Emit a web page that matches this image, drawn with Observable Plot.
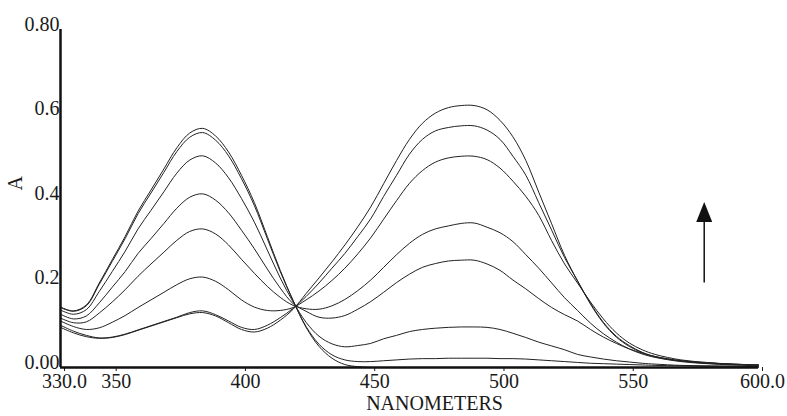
<!DOCTYPE html>
<html><head><meta charset="utf-8">
<script src="https://cdn.jsdelivr.net/npm/d3@7"></script>
<script src="https://cdn.jsdelivr.net/npm/@observablehq/plot@0.6"></script>
<style>
body{margin:0;background:#fff;}
</style></head><body><div id="chart"></div>
<script>
const wavelengths = [330,335,340,345,350,355,360,365,370,375,380,385,390,395,400,405,410,415,420,425,430,435,440,445,450,455,460,465,470,475,480,485,490,495,500,505,510,515,520,525,530,535,540,545,550,555,560,570,580,590,600];

const curve1 = [.143,.134,.148,.200,.255,.310,.370,.420,.470,.520,.555,.566,.548,.510,.455,.390,.310,.230,.158,.095,.050,.022,.007,.002,.000,
  0,0,0,0,0,0,0,0,0,0,0,0,0,0,0,0,0,0,0,0,0,0,0,0,0,0];
const curve2 = [.142,.133,.146,.197,.251,.305,.364,.413,.462,.511,.545,.556,.538,.501,.447,.383,.305,.227,.158,.097,.055,.030,.018,.014,.014,
  .016,.018,.020,.021,.021,.022,.022,.022,.022,.021,.021,.020,.018,.016,.014,.012,.010,.009,.008,.007,.006,.005,.004,.003,.003,.002];
const curve3 = [.136,.126,.137,.180,.227,.275,.328,.372,.416,.460,.491,.501,.484,.449,.400,.344,.278,.212,.155,.107,.074,.056,.049,.052,.057,
  .068,.076,.085,.090,.093,.095,.096,.096,.095,.090,.081,.071,.060,.051,.042,.031,.025,.020,.016,.013,.010,.008,.005,.004,.003,.002];
const curve4 = [.126,.115,.122,.153,.190,.227,.270,.305,.341,.377,.403,.411,.396,.366,.325,.281,.233,.188,.151,.133,.119,.117,.123,.138,.156,
  .178,.201,.221,.237,.246,.252,.254,.254,.245,.230,.207,.186,.163,.142,.125,.110,.090,.072,.057,.044,.034,.026,.016,.011,.008,.006];
const curve5 = [.117,.106,.108,.129,.155,.184,.216,.245,.273,.301,.322,.328,.316,.290,.256,.223,.192,.166,.147,.139,.138,.146,.161,.182,.207,
  .237,.267,.294,.315,.328,.335,.341,.342,.332,.319,.298,.267,.235,.200,.165,.135,.105,.080,.060,.044,.032,.024,.014,.009,.006,.004];
const curve6 = [.110,.097,.090,.094,.107,.123,.142,.160,.178,.196,.210,.214,.204,.184,.160,.143,.135,.135,.142,.160,.181,.206,.235,.269,.307,
  .351,.395,.436,.466,.486,.496,.500,.500,.492,.472,.441,.405,.360,.300,.245,.200,.155,.115,.082,.058,.042,.031,.018,.012,.008,.006];
const curve7 = [.100,.086,.076,.070,.072,.079,.089,.099,.109,.119,.130,.134,.125,.110,.095,.090,.100,.118,.140,.168,.200,.235,.270,.310,.352,
  .405,.455,.505,.540,.560,.568,.572,.572,.562,.540,.500,.455,.390,.325,.260,.205,.152,.107,.074,.052,.036,.026,.016,.011,.008,.006];
const curve8 = [.095,.082,.073,.069,.071,.078,.088,.098,.108,.118,.127,.130,.122,.106,.090,.084,.093,.112,.138,.175,.212,.250,.290,.333,.380,
  .435,.490,.540,.578,.602,.615,.620,.620,.610,.585,.546,.490,.415,.340,.265,.205,.150,.105,.072,.050,.035,.025,.015,.010,.007,.005];

const xTicks = [330,350,400,450,500,550,600];
const xTickLabels = ["330.0","350","400","450","500","550","600.0"];
const yTicks = [0,0.2,0.4,0.6,0.8];
const yTickLabels = ["0.00","0.2","0.4","0.6","0.80"];
const xTitle = "NANOMETERS";
const yTitle = "A";
const arrowX = 579;      // nm
const arrowFrom = 0.2;   // A
const arrowTo = 0.35;    // A
const arrowHead = 0.368; // A

const series = [curve1,curve2,curve3,curve4,curve5,curve6,curve7,curve8];
const tidy = series.flatMap((s, i) => s.map((a, j) => ({id: i, nm: wavelengths[j], a})));

const headSymbol = {draw(ctx) { ctx.moveTo(0,-10); ctx.lineTo(8,10); ctx.lineTo(-8,10); ctx.closePath(); }};

const ink = "#1a1a1a";
const chart = Plot.plot({
  width: 787, height: 416,
  marginLeft: 60, marginRight: 29, marginTop: 29, marginBottom: 49,
  x: {domain: [330, 600]},
  y: {domain: [0, 0.8]},
  style: {fontFamily: "'Liberation Serif', 'Times New Roman', serif", fontSize: "20px", color: ink, background: "#fff"},
  marks: [
    Plot.line(tidy, {x: "nm", y: "a", z: "id", stroke: "#222", strokeWidth: 1, curve: "catmull-rom"}),
    Plot.axisX(xTicks, {tickSize: 4, tickPadding: 2, dx: 4, stroke: ink, fill: ink, fontSize: 20,
      tickFormat: d => xTickLabels[xTicks.indexOf(d)], label: null}),
    Plot.axisY(yTicks, {tickSize: 0, tickPadding: 0, dx: -1, dy: -5, stroke: ink, fill: ink, fontSize: 20,
      tickFormat: d => yTickLabels[yTicks.indexOf(d)], label: null}),
    Plot.ruleY([0], {stroke: "#111", strokeWidth: 2.5}),
    Plot.ruleX([330], {y1: 0, y2: 0.8, stroke: "#111", strokeWidth: 2.5}),
    Plot.text([xTitle], {text: d => d, frameAnchor: "bottom", dy: 42, dx: 25, fontSize: 20, fill: ink}),
    Plot.text([yTitle], {text: d => d, frameAnchor: "left", dx: -45, dy: -8, rotate: -90, fontSize: 20, fill: ink}),
    Plot.ruleX([arrowX], {y1: arrowFrom, y2: arrowTo, stroke: "#111", strokeWidth: 1.5}),
    Plot.dot([arrowX], {x: d => d, y: () => arrowHead, symbol: headSymbol, r: 10, fill: "#111", stroke: null})
  ]
});
document.getElementById("chart").appendChild(chart);
</script>
</body></html>
